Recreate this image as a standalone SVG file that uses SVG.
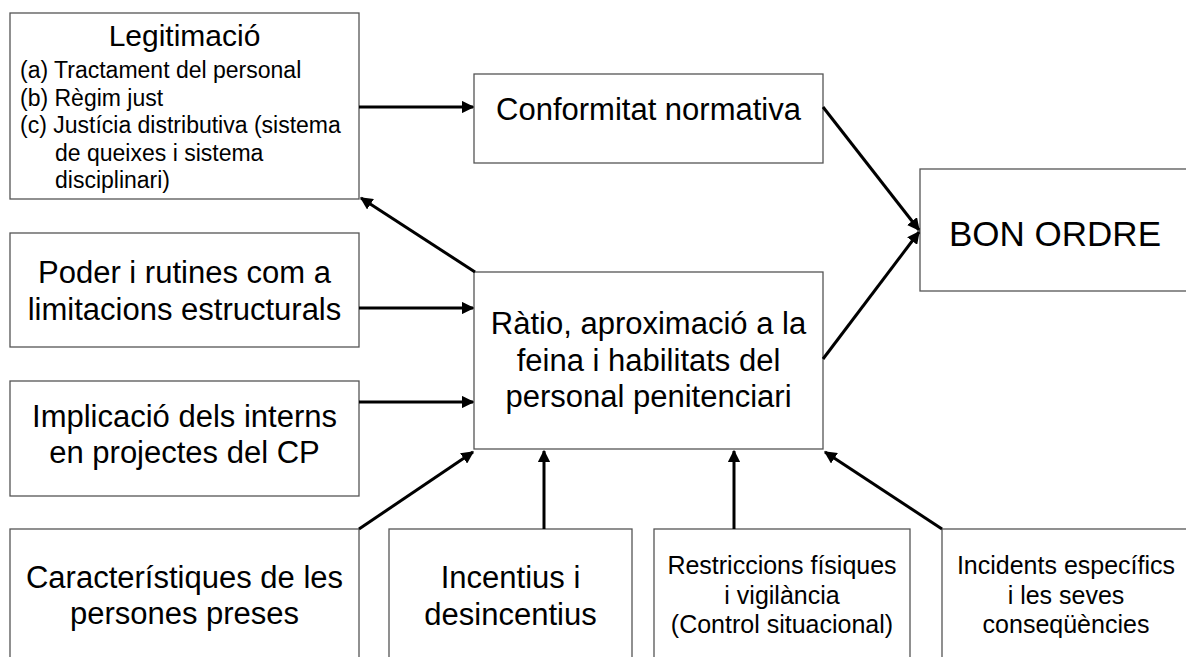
<svg xmlns="http://www.w3.org/2000/svg" width="1186" height="657" viewBox="0 0 1186 657">
<defs>
<marker id="ah" viewBox="0 0 10 10" refX="9" refY="5" markerWidth="4.2" markerHeight="4.2" orient="auto" markerUnits="strokeWidth">
<path d="M0,0 L10,5 L0,10 Z" fill="#000"/>
</marker>
<style>
.box{fill:#fff;stroke:#555;stroke-width:1.3}
.t{font-family:"Liberation Sans",Arial,sans-serif;fill:#000}
.c{text-anchor:middle}
.edge{stroke:#000;stroke-width:3;fill:none;marker-end:url(#ah)}
</style>
</defs>
<rect width="1186" height="657" fill="#fff"/>
<g id="legitimacio">
<rect class="box" x="10" y="13" width="349" height="186"/>
<text class="t c" x="184.5" y="46" font-size="30">Legitimació</text>
<text class="t" x="20" font-size="23"><tspan x="20" y="78">(a) Tractament del personal</tspan><tspan x="20" y="105.5">(b) Règim just</tspan><tspan x="20" y="133">(c) Justícia distributiva (sistema</tspan><tspan x="55" y="160.5">de queixes i sistema</tspan><tspan x="55" y="188">disciplinari)</tspan></text>
</g>
<g id="conformitat">
<rect class="box" x="474" y="74" width="349" height="89"/>
<text class="t c" x="648.5" y="120" font-size="31">Conformitat normativa</text>
</g>
<g id="bonordre">
<rect class="box" x="920" y="169" width="272" height="122"/>
<text class="t c" x="1055" y="246" font-size="35">BON ORDRE</text>
</g>
<g id="poder">
<rect class="box" x="10" y="233" width="349" height="114"/>
<text class="t c" font-size="31"><tspan x="184.5" y="283">Poder i rutines com a</tspan><tspan x="184.5" y="320">limitacions estructurals</tspan></text>
</g>
<g id="ratio">
<rect class="box" x="474" y="272" width="349" height="177"/>
<text class="t c" font-size="31"><tspan x="648.5" y="334">Ràtio, aproximació a la</tspan><tspan x="648.5" y="370.5">feina i habilitats del</tspan><tspan x="648.5" y="407">personal penitenciari</tspan></text>
</g>
<g id="implicacio">
<rect class="box" x="10" y="381" width="349" height="115"/>
<text class="t c" font-size="31"><tspan x="184.5" y="427">Implicació dels interns</tspan><tspan x="184.5" y="463">en projectes del CP</tspan></text>
</g>
<g id="caracteristiques">
<rect class="box" x="10" y="529" width="349" height="140"/>
<text class="t c" font-size="31"><tspan x="184.5" y="588">Característiques de les</tspan><tspan x="184.5" y="624">persones preses</tspan></text>
</g>
<g id="incentius">
<rect class="box" x="389" y="529" width="243" height="140"/>
<text class="t c" font-size="31"><tspan x="510.5" y="588">Incentius i</tspan><tspan x="510.5" y="625">desincentius</tspan></text>
</g>
<g id="restriccions">
<rect class="box" x="654" y="529" width="256" height="140"/>
<text class="t c" font-size="25"><tspan x="782" y="574">Restriccions físiques</tspan><tspan x="782" y="603.5">i vigilància</tspan><tspan x="782" y="633">(Control situacional)</tspan></text>
</g>
<g id="incidents">
<rect class="box" x="942" y="529" width="250" height="140"/>
<text class="t c" font-size="25"><tspan x="1066" y="574">Incidents específics</tspan><tspan x="1066" y="603.5">i les seves</tspan><tspan x="1066" y="633">conseqüències</tspan></text>
</g>
<g id="connectors">
<line class="edge" x1="359" y1="107" x2="473" y2="107"/>
<line class="edge" x1="823" y1="107" x2="919" y2="230"/>
<line class="edge" x1="823" y1="359" x2="919" y2="232"/>
<line class="edge" x1="475" y1="272" x2="361" y2="198"/>
<line class="edge" x1="359" y1="308" x2="473" y2="308"/>
<line class="edge" x1="359" y1="402" x2="473" y2="402"/>
<line class="edge" x1="359" y1="529" x2="473" y2="452"/>
<line class="edge" x1="544" y1="529" x2="544" y2="451"/>
<line class="edge" x1="734" y1="529" x2="734" y2="451"/>
<line class="edge" x1="942" y1="529" x2="825" y2="452"/>
</g>
</svg>
